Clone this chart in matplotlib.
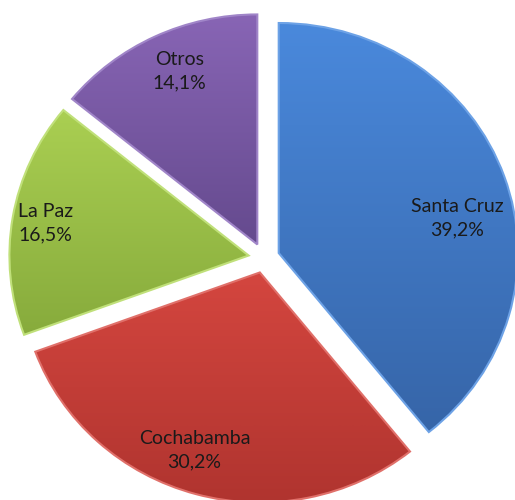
import numpy as np
import matplotlib.pyplot as plt
from matplotlib.colors import LinearSegmentedColormap

# Datos
regiones = ['Santa Cruz', 'Cochabamba', 'La Paz', 'Otros']
porcentajes = [39.2, 30.2, 16.5, 14.1]

# colores (claro arriba, oscuro abajo)
col_claro = ['#4a89dc', '#d4463f', '#aacf52', '#8865b5']
col_oscuro = ['#3665a8', '#b0342f', '#87ab3c', '#654a8e']
col_borde = ['#6da2e6', '#e0706a', '#c0e07a', '#a085c8']
dist_etiq = [0.76, 0.82, 0.86, 0.82]
giro_etiq = [-8, -4, 0, -2]

plt.rcParams['font.family'] = ['Lato', 'DejaVu Sans']

fig = plt.figure(figsize=(5.15, 5.0), dpi=100)
ax = fig.add_axes([0, 0, 1, 1])

sx = 1.04  # el gráfico original está algo estirado en horizontal
R = 230
centro = (264 / sx, 242)
wedges, textos = ax.pie(
    porcentajes, radius=R, center=centro, startangle=90, counterclock=False,
    explode=[15] * len(porcentajes), frame=True,
    labels=[f'{r}\n{str(p).replace(".", ",")}%' for r, p in zip(regiones, porcentajes)],
    labeldistance=0.8, textprops=dict(fontsize=14, color='#1a1a1a'))

for i, w in enumerate(wedges):
    w.set_facecolor('none')
    w.set_edgecolor(col_borde[i])
    w.set_linewidth(1.5)
    # degradado vertical recortado a la cuña
    bb = w.get_path().get_extents(w.get_transform() - ax.transData)
    cmap = LinearSegmentedColormap.from_list('g', [col_oscuro[i], col_claro[i]])
    grad = np.linspace(0, 1, 256).reshape(-1, 1)
    im = ax.imshow(grad, cmap=cmap, origin='lower', aspect='auto',
                   extent=[bb.x0, bb.x1, bb.y0, bb.y1], zorder=0.5)
    im.set_clip_path(w)
    w.set_zorder(1)

    # etiqueta
    ang = np.deg2rad((w.theta1 + w.theta2) / 2 + giro_etiq[i])
    cx, cy = w.center
    textos[i].set_position((cx + dist_etiq[i] * R * np.cos(ang),
                            cy + dist_etiq[i] * R * np.sin(ang)))
    textos[i].set_ha('center')
    textos[i].set_va('center')
    textos[i].set_multialignment('center')
    textos[i].set_linespacing(1.45)
    textos[i].set_zorder(3)

ax.set_xlim(0, 515 / sx)
ax.set_ylim(0, 500)
ax.set_aspect('auto')
ax.axis('off')
fig.savefig('out.png', dpi=100)
